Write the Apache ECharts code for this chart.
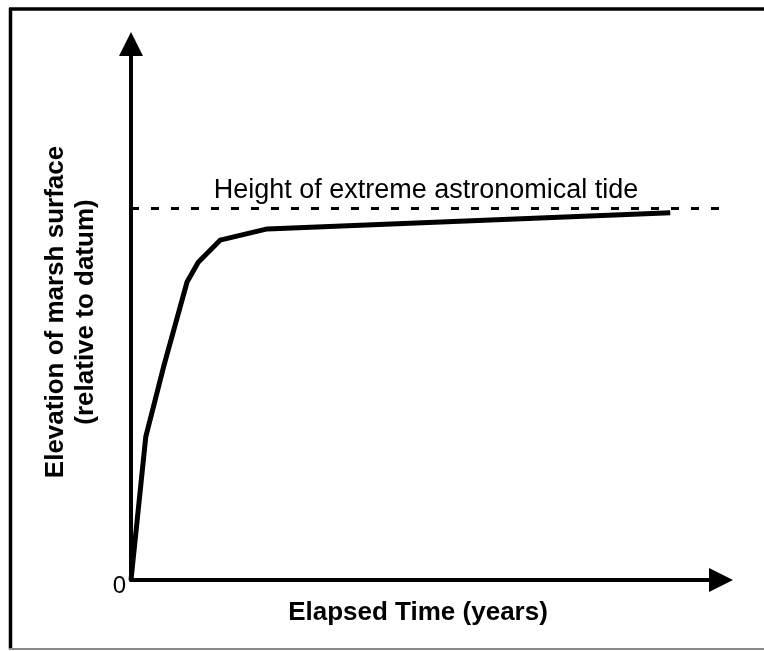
<!DOCTYPE html>
<html>
    <head>
        <meta charset="utf-8">
        <script src="https://cdn.jsdelivr.net/npm/echarts@6/dist/echarts.min.js"></script>
    </head>
    <body style="margin:0">
        <style>
            #main {
                width: 764px;
                height: 651px;
            }
        </style>
        <div id="main"></div>
        <script>
            // points (x: 0..100 of the time axis, y: 0..100 of the elevation axis)
            var elapsedTime = [0, 2.5, 5.6, 9.5, 11.4, 15.1, 23.1, 91.4];
            var marshElevation = [0, 26.7, 40.1, 55.6, 59.3, 63.4, 65.5, 68.5];
            var tideHeight = [69.4];
            var tideLabel = 'Height of extreme astronomical tide';

            var font = 'Liberation Sans, Arial, sans-serif';

            var curveData = [];
            for (var i = 0; i < elapsedTime.length; i++) {
                curveData.push([elapsedTime[i], marshElevation[i]]);
            }

            var chart = echarts.init(document.getElementById('main'));

            chart.setOption({
                animation: false,
                backgroundColor: '#fff',
                textStyle: {
                    fontFamily: font
                },
                grid: {
                    left: 131,
                    right: 43,
                    top: 44,
                    bottom: 71
                },
                graphic: [{
                    type: 'line',
                    shape: { x1: 9, y1: 9, x2: 764, y2: 9 },
                    style: { stroke: '#000', lineWidth: 3.5 }
                }, {
                    type: 'line',
                    shape: { x1: 10.5, y1: 8, x2: 10.5, y2: 649 },
                    style: { stroke: '#000', lineWidth: 3.5 }
                }, {
                    type: 'line',
                    shape: { x1: 9, y1: 649, x2: 764, y2: 649 },
                    style: { stroke: '#888', lineWidth: 2 }
                }],
                xAxis: {
                    type: 'value',
                    min: 0,
                    max: 100,
                    interval: 100,
                    name: 'Elapsed Time (years)',
                    nameLocation: 'middle',
                    nameGap: 20,
                    nameTextStyle: {
                        color: '#000',
                        fontSize: 26,
                        fontWeight: 'bold',
                        padding: [0, 16, 0, 0],
                        fontFamily: font
                    },
                    axisLine: {
                        lineStyle: { color: '#000', width: 4 },
                        symbol: ['none', 'triangle'],
                        symbolSize: [24, 24]
                    },
                    axisTick: { show: false },
                    axisLabel: { show: false },
                    splitLine: { show: false }
                },
                yAxis: {
                    type: 'value',
                    min: 0,
                    max: 100,
                    interval: 100,
                    name: 'Elevation of marsh surface\n(relative to datum)',
                    nameLocation: 'middle',
                    nameGap: 30,
                    nameTextStyle: {
                        color: '#000',
                        fontSize: 26,
                        fontWeight: 'bold',
                        lineHeight: 30,
                        fontFamily: font
                    },
                    axisLine: {
                        show: true,
                        lineStyle: { color: '#000', width: 4 },
                        symbol: ['none', 'triangle'],
                        symbolSize: [24, 24]
                    },
                    axisTick: { show: false },
                    axisLabel: {
                        color: '#000',
                        fontSize: 24,
                        margin: 5,
                        verticalAlign: 'top',
                        lineHeight: 12,
                        fontFamily: font,
                        formatter: function (v) {
                            return v === 0 ? '0' : '';
                        }
                    },
                    splitLine: { show: false }
                },
                series: [{
                    type: 'line',
                    data: curveData,
                    symbol: 'none',
                    lineStyle: { color: '#000', width: 5, join: 'round' },
                    markLine: {
                        silent: true,
                        symbol: ['none', 'none'],
                        lineStyle: { color: '#000', width: 3, type: [8, 12] },
                        label: {
                            position: 'insideMiddleTop',
                            distance: 4,
                            color: '#000',
                            fontSize: 27,
                            fontFamily: font,
                            formatter: tideLabel
                        },
                        data: [{ yAxis: tideHeight[0] }]
                    }
                }]
            });
        </script>
    </body>
</html>
